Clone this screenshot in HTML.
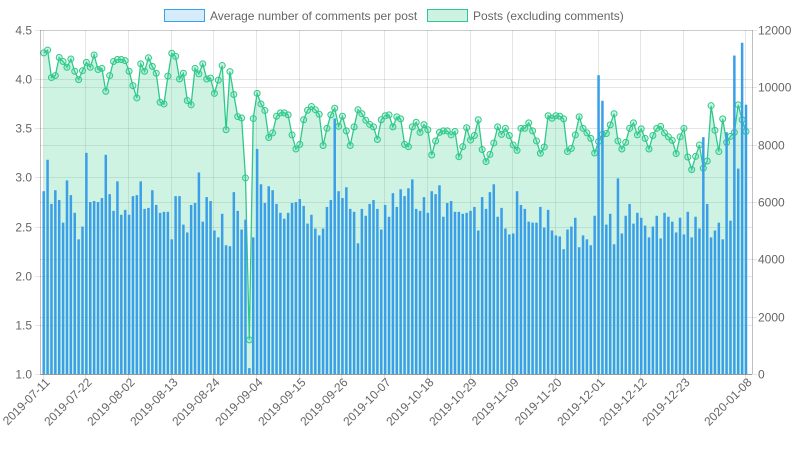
<!DOCTYPE html>
<html><head><meta charset="utf-8"><style>
html,body{margin:0;padding:0;background:#fff;width:798px;height:450px;overflow:hidden}
svg text{font-family:"Liberation Sans",sans-serif;fill:#666;font-size:12px}
</style></head><body>
<svg id="chart" width="798" height="450" xmlns="http://www.w3.org/2000/svg">
<g>
 <g><rect x="164.5" y="9.5" width="40" height="12" fill="rgba(54,162,235,0.2)" stroke="#36a2eb"/><text x="210" y="20">Average number of comments per post</text></g>
 <g><rect x="427.5" y="9.5" width="40" height="12" fill="rgba(75,205,150,0.28)" stroke="#2ec98a"/><text x="473" y="20">Posts (excluding comments)</text></g>
</g>
<g id="grid"></g>
<g id="area"></g>
<g id="bars"></g>
<g id="axes"></g>
</svg>
<script>
const avgComments=[2.86,3.18,2.73,2.87,2.77,2.54,2.97,2.82,2.64,2.37,2.50,3.25,2.75,2.76,2.75,2.79,3.23,2.83,2.66,2.96,2.62,2.67,2.62,2.81,2.82,2.96,2.68,2.69,2.87,2.72,2.64,
2.65,2.65,2.37,2.81,2.81,2.52,2.44,2.72,2.74,3.05,2.55,2.80,2.76,2.46,2.39,2.63,2.31,2.30,2.85,2.66,2.47,2.57,1.06,2.39,3.29,2.93,2.74,2.91,2.87,2.73,2.64,
2.58,2.64,2.74,2.75,2.78,2.71,2.53,2.62,2.48,2.41,2.48,2.70,2.77,3.60,2.86,2.79,2.90,2.68,2.65,2.33,2.68,2.61,2.73,2.77,2.68,2.47,2.72,2.60,2.84,2.70,2.88,
2.81,2.89,2.98,2.68,2.66,2.80,2.64,2.86,2.83,2.92,2.60,2.74,2.76,2.65,2.65,2.63,2.64,2.66,2.70,2.46,2.80,2.68,2.85,2.93,2.60,2.69,2.48,2.42,2.43,2.86,2.72,
2.68,2.55,2.54,2.54,2.70,2.49,2.67,2.46,2.41,2.40,2.27,2.47,2.50,2.59,2.29,2.41,2.37,2.31,2.61,4.04,3.78,2.52,2.63,2.32,2.99,2.43,2.61,2.73,2.53,2.64,2.59,
2.51,2.39,2.50,2.61,2.38,2.64,2.60,2.55,2.44,2.59,2.42,2.65,2.39,2.60,2.48,3.41,2.73,2.39,2.46,2.54,2.37,3.46,2.56,4.24,3.09,4.37,3.74];
const posts=[11200,11300,10340,10410,11040,10900,10700,10990,10560,10270,10580,10870,10700,11130,10620,10660,9860,10410,10900,10970,10970,10930,10560,10060,9630,10820,10560,11030,10730,10490,9480,
9420,10390,11190,11080,10290,10490,9540,9390,10660,10470,10820,10290,10320,9790,10250,10760,8520,10550,9750,8980,8930,6840,1190,8910,9790,9420,9190,8250,8410,8990,9110,
9110,9040,8340,7850,8010,8870,9200,9330,9220,9060,7970,8570,9040,9270,8640,8990,8480,7970,8620,9220,9080,8850,8710,8620,8180,8870,9010,9040,8620,8970,8900,
8010,7930,8620,8780,8430,8700,8520,7640,8130,8430,8480,8480,8340,8460,7580,7930,8590,8160,8320,8870,7830,7410,7660,8060,8620,8360,8570,8320,7990,7800,8570,
8570,8760,8480,8130,7700,7920,9010,8920,9010,8990,8900,7760,7870,8340,8970,8570,8410,8220,7710,8110,8360,8390,8690,9080,8130,7850,8080,8570,8760,8340,8550,
8220,7850,8320,8570,8640,8410,8270,8150,7690,8270,8570,7570,7130,7590,7990,7180,7430,9360,8500,7760,8900,8080,8290,8430,9390,8870,8460];
const leftTicks=["1.0","1.5","2.0","2.5","3.0","3.5","4.0","4.5"];
const rightTicks=["0","2000","4000","6000","8000","10000","12000"];
const tickDates=["2019-07-11","2019-07-22","2019-08-02","2019-08-13","2019-08-24","2019-09-04","2019-09-15","2019-09-26","2019-10-07","2019-10-18","2019-10-29","2019-11-09","2019-11-20","2019-12-01","2019-12-12","2019-12-23","2020-01-08"];
const tickIdx=[0,11,22,33,44,55,66,77,88,99,110,121,132,143,154,165,181];

const NS="http://www.w3.org/2000/svg";
const L=40,R=752,T=30,B=374;
const N=avgComments.length;
const x=i=>43.7+i*(746-43.7)/(N-1);
const yL=v=>B-(v-1)/3.5*(B-T);
const yR=v=>B-v/12000*(B-T);
function mk(tag,attrs,parent){const e=document.createElementNS(NS,tag);for(const k in attrs)e.setAttribute(k,attrs[k]);parent.appendChild(e);return e;}
const grid=document.getElementById('grid'),area=document.getElementById('area'),bars=document.getElementById('bars'),axes=document.getElementById('axes');
leftTicks.forEach(t=>{const y=Math.round(yL(+t))+0.5;const g=mk('line',{x1:L-5,x2:R,y1:y,y2:y,stroke:'rgba(0,0,0,0.1)'},grid);


const tx=mk('text',{x:32,y:y+4,'text-anchor':'end'},axes);tx.textContent=t;

});
rightTicks.forEach(t=>{const y=Math.round(yR(+t))+0.5;const g=mk('line',{x1:L,x2:R+5,y1:y,y2:y,stroke:'rgba(0,0,0,0.1)'},grid);


const tx=mk('text',{x:758,y:y+4},axes);tx.textContent=t;

});
tickIdx.forEach((idx,k)=>{const xx=Math.round(x(idx))-0.5;const g=mk('line',{x1:xx,x2:xx,y1:T,y2:B+5,stroke:'rgba(0,0,0,0.1)'},grid);


const ax=xx+7,ay=B+9;
const tx=mk('text',{x:ax,y:ay,'text-anchor':'end',transform:`rotate(-45 ${ax} ${ay})`},axes);tx.textContent=tickDates[k];

});
mk('line',{x1:L+0.5,x2:L+0.5,y1:T,y2:B,stroke:'rgba(0,0,0,0.25)'},axes);
mk('line',{x1:R+0.5,x2:R+0.5,y1:T,y2:B,stroke:'rgba(0,0,0,0.25)'},axes);
mk('line',{x1:L,x2:R,y1:B+0.5,y2:B+0.5,stroke:'rgba(0,0,0,0.25)'},axes);
let pts=posts.map((v,i)=>x(i).toFixed(1)+','+yR(v).toFixed(1));
const fill=mk('polygon',{points:x(0)+','+B+' '+pts.join(' ')+' '+x(N-1)+','+B,fill:'rgba(75,210,150,0.27)'},area);


const ln=mk('polyline',{points:pts.join(' '),fill:'none',stroke:'#2ec98a','stroke-width':1.3},area);


posts.forEach((v,i)=>{const c=mk('circle',{cx:x(i),cy:yR(v),r:3,fill:'rgba(75,210,150,0.25)',stroke:'#2ec98a','stroke-width':1},area);

});
avgComments.forEach((v,i)=>{const y=yL(v);const b=mk('rect',{x:x(i)-1.25,y:y,width:2.5,height:B-y,fill:'#3b9fe8'},bars);

});
</script>
</body></html>
